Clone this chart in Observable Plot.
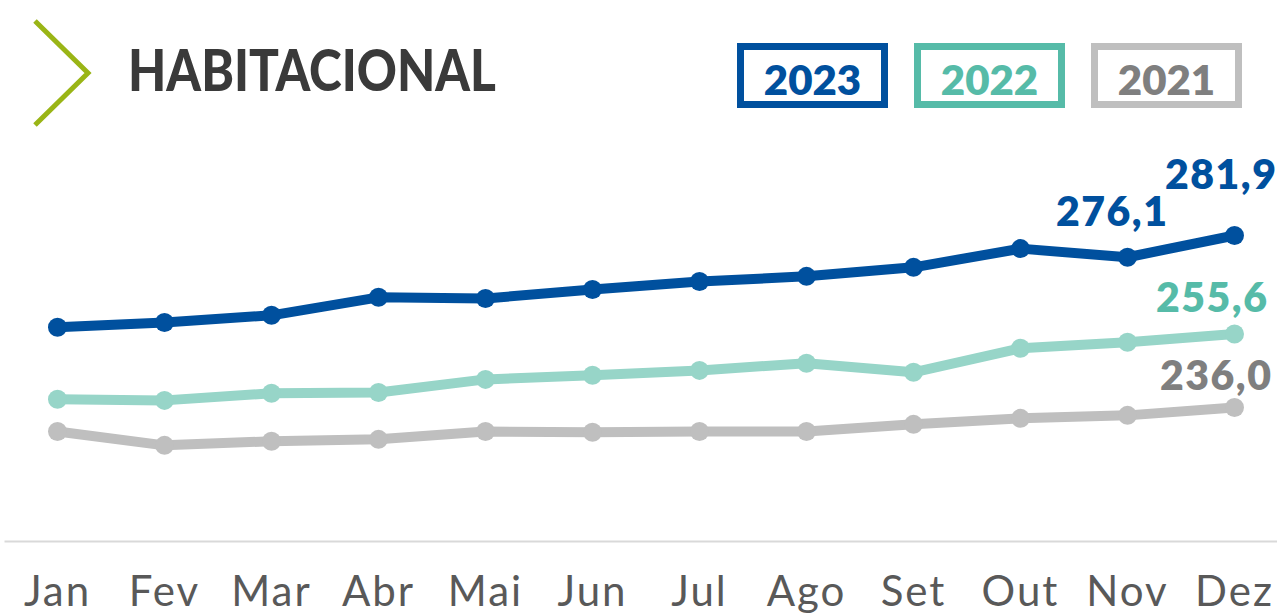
<!DOCTYPE html>
<html>
<head>
<meta charset="utf-8">
<script src="https://cdn.jsdelivr.net/npm/d3@7"></script>
<script src="https://cdn.jsdelivr.net/npm/@observablehq/plot@0.6"></script>
<style>
  html, body { margin: 0; padding: 0; background: #ffffff; }
  body { width: 1277px; height: 615px; overflow: hidden; font-family: Lato, "Open Sans", sans-serif; }
  #header { position: relative; width: 1277px; height: 140px; }
  #chart { width: 1277px; height: 475px; }
</style>
</head>
<body>
<div id="header"></div>
<div id="chart"></div>
<script>
// ---- data ----
const title = "HABITACIONAL";
const months = ["Jan","Fev","Mar","Abr","Mai","Jun","Jul","Ago","Set","Out","Nov","Dez"];
const years = ["2023","2022","2021"];
const v2023 = [257.4, 258.7, 260.6, 265.4, 265.1, 267.5, 269.6, 271.0, 273.4, 278.4, 276.1, 281.9];
const v2022 = [238.2, 237.9, 239.8, 240.0, 243.5, 244.6, 245.9, 247.8, 245.4, 251.8, 253.4, 255.6];
const v2021 = [229.6, 225.9, 227.0, 227.5, 229.6, 229.4, 229.6, 229.6, 231.5, 233.1, 233.9, 236.0];
const lineColors = {"2023": "#00509e", "2022": "#97d5c8", "2021": "#bfbfbf"};
const textColors = {"2023": "#00509e", "2022": "#56bba8", "2021": "#7f7f7f"};
const boxColors  = {"2023": "#00509e", "2022": "#56bba8", "2021": "#bfbfbf"};
// labelled points: [year, month]
const labelled = [["2023","Nov"],["2023","Dez"],["2022","Dez"],["2021","Dez"]];

const series = {"2023": v2023, "2022": v2022, "2021": v2021};
const rows = [];
for (const y of years) months.forEach((m, i) => rows.push({year: y, month: m, value: series[y][i]}));
const fmt = v => v.toFixed(1).replace(".", ",");

// ---- header: chevron, title, legend ----
const NS = "http://www.w3.org/2000/svg";
const hs = d3.select("#header").append("svg")
  .attr("xmlns", NS).attr("width", 1277).attr("height", 140);
hs.append("polyline")
  .attr("points", "35,21 88,73 35,125")
  .attr("fill", "none").attr("stroke", "#9ab516").attr("stroke-width", 5);
hs.append("text")
  .attr("x", 128).attr("y", 91)
  .attr("font-family", "Lato, sans-serif").attr("font-weight", 900)
  .attr("font-size", 57).attr("fill", "#3a3a3a")
  .attr("textLength", 368).attr("lengthAdjust", "spacingAndGlyphs")
  .text(title);
const boxX = [737, 914, 1091];
years.forEach((y, i) => {
  const g = hs.append("g");
  g.append("rect")
    .attr("x", boxX[i] + 3.5).attr("y", 46.5).attr("width", 144).attr("height", 58)
    .attr("fill", "none").attr("stroke", boxColors[y]).attr("stroke-width", 7);
  g.append("text")
    .attr("x", boxX[i] + 75.5).attr("y", 95)
    .attr("text-anchor", "middle")
    .attr("font-family", "Lato, sans-serif").attr("font-weight", 800)
    .attr("font-size", 42).attr("fill", textColors[y])
    .text(y);
});

// ---- chart ----
const marks = [
  Plot.frame({anchor: "bottom", stroke: "#d9d9d9", strokeWidth: 2})
];
for (const y of ["2021","2022","2023"]) {
  const d = rows.filter(r => r.year === y);
  marks.push(Plot.line(d, {x: "month", y: "value", stroke: lineColors[y], strokeWidth: 10, strokeLinejoin: "round"}));
  marks.push(Plot.dot(d, {x: "month", y: "value", r: 9.5, fill: lineColors[y]}));
}
const labelStyle = {
  "2023|Nov": {dx: 41, dy: -31},
  "2023|Dez": {dx: 43, dy: -47},
  "2022|Dez": {dx: 34, dy: -22},
  "2021|Dez": {dx: 38, dy: -18}
};
for (const [y, m] of labelled) {
  const d = rows.filter(r => r.year === y && r.month === m);
  const s = labelStyle[y + "|" + m];
  marks.push(Plot.text(d, {
    x: "month", y: "value", text: r => fmt(r.value),
    textAnchor: "end", lineAnchor: "bottom", dx: s.dx, dy: s.dy,
    fill: textColors[y], fontSize: 41, fontWeight: 800, fontFamily: "Lato, sans-serif"
  }));
}

const chart = Plot.plot({
  width: 1277,
  height: 475,
  marginLeft: 5,
  marginRight: 0,
  marginTop: 0,
  marginBottom: 74,
  style: {fontFamily: "Lato, sans-serif", fontSize: "42px", color: "#595959", background: "#ffffff", overflow: "visible"},
  x: {type: "point", domain: months, range: [56, 1234], padding: 0, tickSize: 0, tickPadding: 35, label: null},
  y: {domain: [236.0, 281.9], range: [267, 95], axis: null},
  marks
});
d3.select(chart).selectAll('g[aria-label="x-axis tick label"] text').style("letter-spacing", "2px");
d3.select(chart).selectAll('g[aria-label="text"] text').style("letter-spacing", "1.5px");
document.getElementById("chart").appendChild(chart);
</script>
</body>
</html>
